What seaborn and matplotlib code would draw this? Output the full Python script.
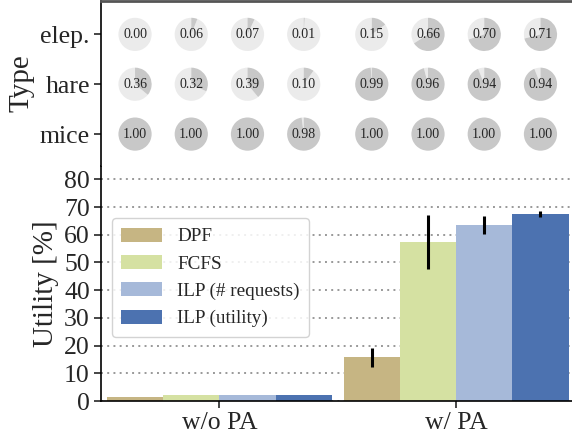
import numpy as np
import pandas as pd
import matplotlib
matplotlib.use("Agg")
import matplotlib.pyplot as plt
import matplotlib.transforms as mtransforms
from matplotlib.patches import Wedge
import seaborn as sns

settings = ["w/o PA", "w/ PA"]
methods = ["DPF", "FCFS", "ILP (# requests)", "ILP (utility)"]
palette = ["#c6b583", "#d5e1a2", "#a6b9d9", "#4c72b0"]

# utility [%] and error, per setting, in method order
util_wo = [1.4, 2.1, 2.1, 2.1]
util_w = [15.8, 57.5, 63.5, 67.4]
err_wo = [0.1, 0.1, 0.1, 0.1]
err_w = [3.4, 9.8, 3.3, 1.1]

types = ["elep.", "hare", "mice"]
# fraction per bar (w/o PA methods then w/ PA methods)
frac_elep = [0.00, 0.06, 0.07, 0.01, 0.15, 0.66, 0.70, 0.71]
frac_hare = [0.36, 0.32, 0.39, 0.10, 0.99, 0.96, 0.94, 0.94]
frac_mice = [1.00, 1.00, 1.00, 0.98, 1.00, 1.00, 1.00, 1.00]

df = pd.DataFrame({
    "setting": [settings[0]] * 4 + [settings[1]] * 4,
    "method": methods * 2,
    "utility": util_wo + util_w,
    "err": err_wo + err_w,
})

sns.set_theme(style="white")
plt.rcParams["font.family"] = ["Liberation Serif", "DejaVu Serif"]

W, H = 572, 437
fig = plt.figure(figsize=(W / 100, H / 100), dpi=100)
x0, x1 = 101, 574.5
ax = fig.add_axes([x0 / W, (H - 401) / H, (x1 - x0) / W, (401 - 165.5) / H])
ax_top = fig.add_axes([x0 / W, (H - 165.5) / H, (x1 - x0) / W, (165.5 - 1.5) / H], sharex=ax)

sns.barplot(data=df, x="setting", y="utility", hue="method", order=settings,
            hue_order=methods, palette=palette, width=0.95, errorbar=None,
            saturation=1, linewidth=0, edgecolor="none", ax=ax)

# error bars at the bar centres
centres = []
for cont, m in zip(ax.containers, methods):
    xs = [b.get_x() + b.get_width() / 2 for b in cont]
    sub = df[df["method"] == m].set_index("setting").loc[settings]
    ax.errorbar(xs, sub["utility"], yerr=sub["err"], fmt="none",
                ecolor="black", elinewidth=2.2, capsize=0, zorder=4)
    centres.append(xs)
# order pies as w/o PA methods then w/ PA methods
pie_x = [centres[k][g] for g in range(len(settings)) for k in range(len(methods))]

ax.set_xlim(-0.5, 1.5)
ax.set_ylim(0, 85)
ax.set_yticks(np.arange(0, 81, 10))
ax.set_xlabel("")
ax.set_ylabel("Utility [%]", fontsize=21)
ax.tick_params(axis="both", labelsize=18.5, length=5, width=1.2,
               left=True, bottom=True, direction="out", pad=3)
ax.yaxis.grid(True, linestyle=(0, (1, 2.2)), color="#999999", linewidth=1.4)
ax.set_axisbelow(True)
for s in ["top", "right"]:
    ax.spines[s].set_visible(False)
for s in ["left", "bottom"]:
    ax.spines[s].set_color("black")
    ax.spines[s].set_linewidth(1.2)

leg = ax.legend(loc="upper left", bbox_to_anchor=(0.023, 0.777), borderaxespad=0,
                fontsize=13.8, frameon=True, fancybox=True, framealpha=0.85,
                edgecolor="#cccccc", handlelength=2.1, handleheight=0.75,
                labelspacing=0.5, borderpad=0.5)

# pie grid on top panel
ax_top.set_ylim(2.63, -0.66)
ax_top.set_yticks(range(len(types)))
ax_top.set_yticklabels(types)
ax_top.set_ylabel("Type", fontsize=21)
ax_top.tick_params(axis="y", labelsize=18.5, length=5, width=1.2, left=True,
                   direction="out", pad=3)
ax_top.tick_params(axis="x", bottom=False, labelbottom=False)
ax_top.grid(False)
for s in ["bottom", "right"]:
    ax_top.spines[s].set_visible(False)
ax_top.spines["left"].set_color("black")
ax_top.spines["left"].set_linewidth(1.2)
ax_top.spines["top"].set_color("#555555")
ax_top.spines["top"].set_linewidth(2)

r = 0.166
for row, fr in enumerate([frac_elep, frac_hare, frac_mice]):
    for xc, f in zip(pie_x, fr):
        tr = fig.dpi_scale_trans + mtransforms.ScaledTranslation(xc, row, ax_top.transData)
        if f < 1:
            ax_top.add_patch(Wedge((0, 0), r, 90, 90 + 360 * (1 - f), transform=tr,
                                   facecolor="#ebebeb", edgecolor="none"))
        if f > 0:
            ax_top.add_patch(Wedge((0, 0), r, 90 - 360 * f, 90, transform=tr,
                                   facecolor="#c8c8c8", edgecolor="none"))
        ax_top.text(xc, row, f"{f:.2f}", ha="center", va="center", fontsize=10)

fig.align_ylabels([ax, ax_top])
fig.savefig("out.png", dpi=100)
